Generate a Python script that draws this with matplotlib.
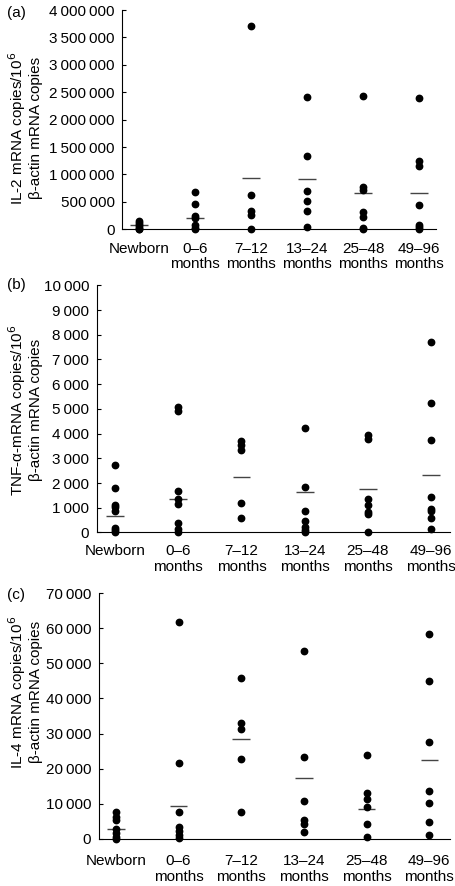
import matplotlib
matplotlib.use("Agg")
import matplotlib.pyplot as plt
from matplotlib.ticker import FuncFormatter

plt.rcParams["font.family"] = ["Liberation Sans", "DejaVu Sans"]
plt.rcParams["font.size"] = 11

groups = ["Newborn", "0\u20136\nmonths", "7\u201312\nmonths",
          "13\u201324\nmonths", "25\u201348\nmonths", "49\u201396\nmonths"]

# (a) IL-2
il2_points = [
    [150000, 120000, 80000, 40000, 10000, 0],
    [680000, 470000, 240000, 200000, 80000, 30000, 0],
    [3700000, 630000, 330000, 260000, 0],
    [2410000, 1330000, 690000, 520000, 330000, 50000],
    [2440000, 770000, 720000, 310000, 220000, 20000, 0],
    [2400000, 1250000, 1150000, 440000, 80000, 50000, 10000],
]
il2_means = [73000, 210000, 940000, 920000, 670000, 670000]

# (b) TNF-alpha
tnf_points = [
    [2750, 1780, 1130, 1020, 850, 180, 100, 20],
    [5095, 4930, 1685, 1360, 1160, 390, 135, 15],
    [3690, 3530, 3355, 1200, 580],
    [4245, 1820, 860, 470, 230, 110, 15],
    [3935, 3785, 1335, 1130, 820, 730, 15],
    [7710, 5255, 3760, 1430, 970, 860, 605, 135],
]
tnf_means = [660, 1360, 2264, 1645, 1740, 2330]

# (c) IL-4
il4_points = [
    [7510, 6050, 5400, 2700, 1500, 570, 0],
    [61900, 21580, 7600, 3230, 2090, 950, 285],
    [45820, 32990, 31370, 22720, 7700],
    [53610, 23290, 10650, 5230, 4090, 1900],
    [23860, 12930, 11220, 8940, 4090, 475],
    [58370, 45060, 27470, 13690, 10270, 4660, 1050],
]
il4_means = [2750, 9410, 28520, 17205, 8555, 22430]

panels = [
    dict(tag="(a)", pts=il2_points, means=il2_means, ymax=4000000, step=500000,
         ylabel="IL-2 mRNA copies/10$^6$\n\u03b2-actin mRNA copies",
         rect=[0.2686, 0.7412, 0.6886, 0.2475], xlim=(-0.295, 5.31), hw=0.16,
         lab_y=0.8555, tag_y=0.985, xpad=9),
    dict(tag="(b)", pts=tnf_points, means=tnf_means, ymax=10000, step=1000,
         ylabel="TNF-\u03b1-mRNA copies/10$^6$\n\u03b2-actin mRNA copies",
         rect=[0.2121, 0.3990, 0.7748, 0.2790], xlim=(-0.29, 5.30), hw=0.14,
         lab_y=0.5372, tag_y=0.678, xpad=8.5),
    dict(tag="(c)", pts=il4_points, means=il4_means, ymax=70000, step=10000,
         ylabel="IL-4 mRNA copies/10$^6$\n\u03b2-actin mRNA copies",
         rect=[0.2171, 0.05339, 0.7697, 0.27697], xlim=(-0.27, 5.33), hw=0.14,
         lab_y=0.2190, tag_y=0.328, xpad=11),
]


def fmt(v, pos):
    s = f"{int(round(v)):,}"
    return s.replace(",", "\u2009")


fig = plt.figure(figsize=(4.56, 8.86), dpi=100)

for p in panels:
    ax = fig.add_axes(p["rect"])
    for i, vals in enumerate(p["pts"]):
        ax.plot([i] * len(vals), vals, "o", color="black", ms=4.6,
                clip_on=False, zorder=3)
    xs = list(range(len(p["means"])))
    ax.hlines(p["means"], [x - p["hw"] for x in xs], [x + p["hw"] for x in xs],
              colors="#444444", lw=1.0, zorder=2)

    ax.set_xlim(*p["xlim"])
    ax.set_ylim(0, p["ymax"])
    ax.set_yticks(range(0, p["ymax"] + 1, p["step"]))
    ax.yaxis.set_major_formatter(FuncFormatter(fmt))
    ax.set_xticks(xs)
    ax.set_xticklabels(groups, linespacing=1.15)
    ax.tick_params(axis="x", length=0, pad=p["xpad"])
    ax.tick_params(axis="y", direction="in", length=3, width=0.8, pad=5.5)
    for side in ["top", "right"]:
        ax.spines[side].set_visible(False)
    for side in ["left", "bottom"]:
        ax.spines[side].set_linewidth(0.8)

    fig.text(25 / 456, p["lab_y"], p["ylabel"], rotation=90, ha="center",
             va="center", multialignment="center", linespacing=1.1)
    fig.text(7 / 456, p["tag_y"], p["tag"], ha="left", va="center")

fig.savefig("out.png", dpi=100)
